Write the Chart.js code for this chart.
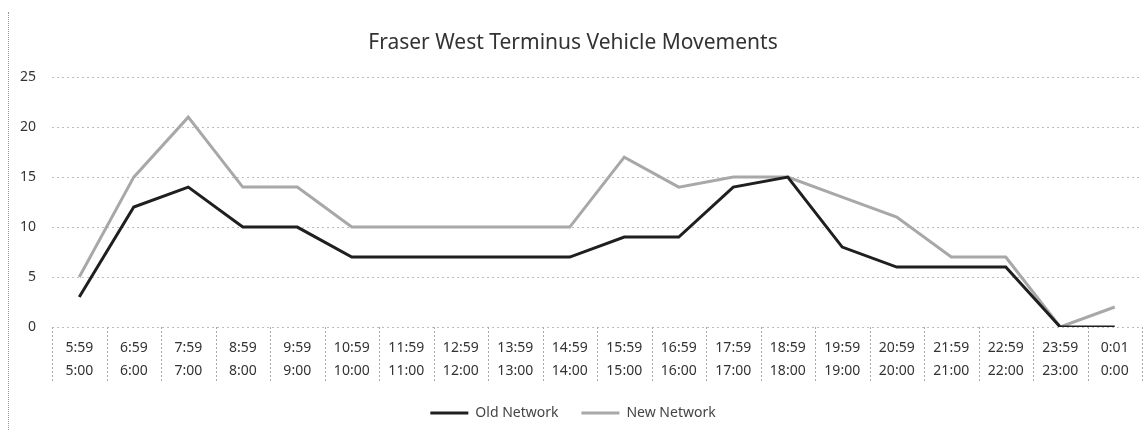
<!DOCTYPE html>
<html>
<head>
<meta charset="utf-8">
<script src="https://cdn.jsdelivr.net/npm/chart.js@4"></script>
<style>
  body { margin: 0; background: #fff; }
  #wrap { position: relative; width: 1146px; height: 430px; }
  #frame { position: absolute; left: 8px; top: 12px; bottom: 0; border-left: 1px dotted #999; }
</style>
</head>
<body>
<div id="wrap">
  <div id="frame"></div>
  <canvas id="myChart" width="1146" height="430"></canvas>
</div>
<script>
const endTimes = ['5:59','6:59','7:59','8:59','9:59','10:59','11:59','12:59','13:59','14:59',
  '15:59','16:59','17:59','18:59','19:59','20:59','21:59','22:59','23:59','0:01'];
const startTimes = ['5:00','6:00','7:00','8:00','9:00','10:00','11:00','12:00','13:00','14:00',
  '15:00','16:00','17:00','18:00','19:00','20:00','21:00','22:00','23:00','0:00'];
const oldNetwork = [3, 12, 14, 10, 10, 7, 7, 7, 7, 7, 9, 9, 14, 15, 8, 6, 6, 6, 0, 0];
const newNetwork = [5, 15, 21, 14, 14, 10, 10, 10, 10, 10, 17, 14, 15, 15, 13, 11, 7, 7, 0, 2];

const labels = endTimes.map((t, i) => [t, startTimes[i]]);

// dotted separators between the category cells under the plot
const cellLines = {
  id: 'cellLines',
  afterDraw(chart) {
    const x = chart.scales.x;
    const ctx = chart.ctx;
    const step = x.getPixelForValue(1) - x.getPixelForValue(0);
    ctx.save();
    ctx.strokeStyle = '#aaa';
    ctx.lineWidth = 1;
    ctx.setLineDash([2, 2]);
    for (let i = 0; i <= labels.length; i++) {
      const px = Math.round(x.getPixelForValue(i) - step / 2) + 0.5;
      ctx.beginPath();
      ctx.moveTo(px, x.top);
      ctx.lineTo(px, x.bottom);
      ctx.stroke();
    }
    ctx.restore();
  }
};

const data = {
  labels: labels,
  datasets: [{
    label: 'Old Network',
    borderColor: '#1f1f1f',
    backgroundColor: '#1f1f1f',
    borderWidth: 3,
    data: oldNetwork,
  },{
    label: 'New Network',
    borderColor: '#a8a8a8',
    backgroundColor: '#a8a8a8',
    borderWidth: 3,
    data: newNetwork,
  }]
};

const config = {
  type: 'line',
  data: data,
  plugins: [cellLines],
  options: {
    responsive: false,
    animation: false,
    layout: { padding: { top: 18, left: 4, right: 4, bottom: 0 } },
    elements: { point: { radius: 0 }, line: { tension: 0 } },
    plugins: {
      title: {
        display: true,
        text: 'Fraser West Terminus Vehicle Movements',
        color: '#333',
        font: { family: 'Noto Sans', size: 21, weight: 'normal' },
        padding: { top: 12, bottom: 22 }
      },
      legend: {
        position: 'bottom',
        labels: {
          usePointStyle: true,
          pointStyle: 'line',
          pointStyleWidth: 38,
          boxHeight: 10,
          padding: 23,
          color: '#444',
          font: { family: 'Noto Sans', size: 14 }
        }
      },
      tooltip: { enabled: false }
    },
    scales: {
      x: {
        offset: true,
        border: { display: false },
        grid: { display: false, drawTicks: false },
        afterFit: (scale) => { scale.height = 56; },
        ticks: {
          padding: 9,
          maxRotation: 0,
          autoSkip: false,
          color: '#333',
          font: { family: 'Noto Sans', size: 14, lineHeight: 1.65 }
        }
      },
      y: {
        min: 0,
        max: 25,
        border: { display: false, dash: [2, 3] },
        grid: { color: '#bdbdbd', drawTicks: false },
        ticks: {
          stepSize: 5,
          padding: 16,
          color: '#333',
          font: { family: 'Noto Sans', size: 14 }
        }
      }
    }
  }
};

const myChart = new Chart(
  document.getElementById('myChart'),
  config
);
</script>
</body>
</html>
